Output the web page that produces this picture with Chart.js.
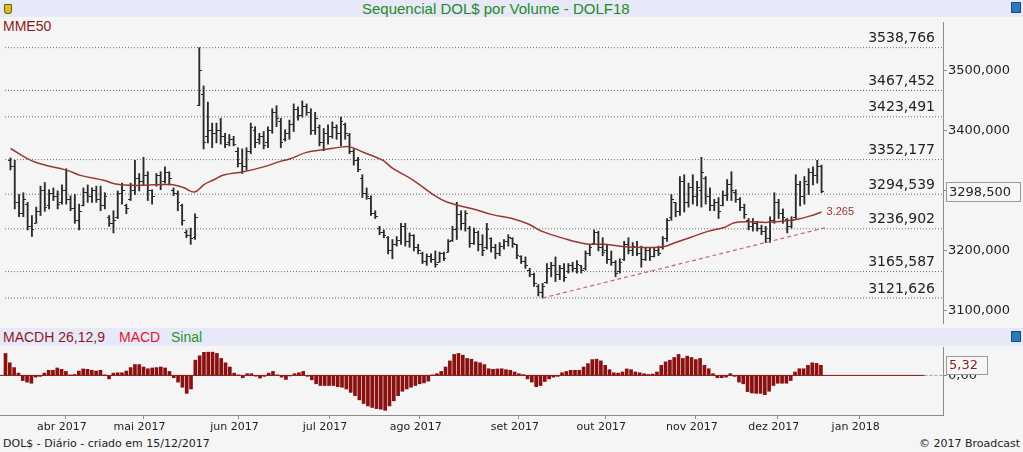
<!DOCTYPE html>
<html lang="pt-BR">
<head>
<meta charset="utf-8">
<title>Sequencial DOL$ por Volume - DOLF18</title>
<script src="https://cdn.jsdelivr.net/npm/chart.js@4.4.0/dist/chart.umd.min.js"></script>
<style>
  html, body { margin: 0; padding: 0; }
  body { position: relative; width: 1023px; height: 452px; overflow: hidden; background: #f5f5f5; font-family: "Liberation Sans", Arial, sans-serif; }
  .strip { position: absolute; left: 0; width: 1023px; background: #e7e8f8; }
  #titleBar { top: 0; height: 17px; }
  #macdBar { top: 328px; height: 18px; }
  .txt { position: absolute; white-space: nowrap; }
  #title { left: 362px; top: 0; font-size: 15px; line-height: 17px; color: #1f8a1f; }
  #mmeLabel { left: 3px; top: 18px; font-size: 14px; line-height: 16px; color: #8b1a1a; }
  .macdTxt { top: 0; font-size: 14px; line-height: 18px; }
  .foot { top: 437px; font-family: "DejaVu Sans", sans-serif; font-size: 11px; line-height: 14px; color: #222; }
  .icoY { position: absolute; left: 4px; top: 4px; width: 6px; height: 8px; background: #d8c020; border: 1px solid #6a5a10; border-radius: 1px 1px 3px 3px; }
  .icoB { position: absolute; left: 1011px; width: 8px; height: 9px; background: #2c78b8; border: 1px solid #1a4a80; }
  canvas { position: absolute; left: 0; }
</style>
</head>
<body>
<div class="strip" id="titleBar">
  <div class="icoY"></div>
  <div class="txt" id="title">Sequencial DOL$ por Volume - DOLF18</div>
  <div class="icoB" style="top:2px"></div>
</div>
<div class="txt" id="mmeLabel">MME50</div>
<canvas id="priceChart" width="1023" height="311" style="top:17px"></canvas>
<div class="strip" id="macdBar">
  <span class="txt macdTxt" style="left:3px;color:#8b1a1a">MACDH 26,12,9</span>
  <span class="txt macdTxt" style="left:119px;color:#e0161e">MACD</span>
  <span class="txt macdTxt" style="left:171px;color:#2a962a">Sinal</span>
  <div class="icoB" style="top:3px"></div>
</div>
<canvas id="macdChart" width="1023" height="90" style="top:346px"></canvas>
<div class="txt foot" style="left:3px">DOL$ - Diário - criado em 15/12/2017</div>
<div class="txt foot" style="right:3px">© 2017 Broadcast</div>

<script>
// Dados (um candle por pregao, 14/03 a 15/12/2017)
const monthLabels = ['abr 2017', 'mai 2017', 'jun 2017', 'jul 2017', 'ago 2017', 'set 2017', 'out 2017', 'nov 2017', 'dez 2017', 'jan 2018'];
const monthIdx = [14, 32, 54, 75, 96, 119, 139, 160, 179, 198];
const priceTicks = [3100, 3200, 3300, 3400, 3500];
const levels = [3538.766, 3467.452, 3423.491, 3352.177, 3294.539, 3236.902, 3165.587, 3121.626];

const highs = [
  3355, 3351, 3294, 3297, 3281, 3259, 3273, 3308, 3314, 3302,
  3305, 3300, 3310, 3337, 3292, 3294, 3278, 3305, 3310, 3305,
  3308, 3308, 3297, 3259, 3267, 3300, 3313, 3278, 3313, 3351,
  3329, 3356, 3332, 3302, 3329, 3332, 3340, 3332, 3305, 3300,
  3278, 3235, 3238, 3262, 3538.8, 3475, 3448, 3413, 3413, 3421,
  3396, 3394, 3391, 3372, 3370, 3372, 3413, 3407, 3396, 3399,
  3407, 3437, 3442, 3421, 3402, 3418, 3445, 3440, 3450, 3445,
  3437, 3431, 3410, 3404, 3410, 3415, 3410, 3423, 3413, 3396,
  3370, 3356, 3327, 3305, 3292, 3267, 3241, 3235, 3224, 3219,
  3224, 3246, 3246, 3230, 3227, 3211, 3198, 3195, 3195, 3200,
  3198, 3198, 3219, 3241, 3281, 3267, 3267, 3241, 3238, 3233,
  3227, 3246, 3222, 3211, 3214, 3219, 3227, 3222, 3211, 3192,
  3190, 3171, 3163, 3144, 3146, 3179, 3181, 3190, 3176, 3179,
  3179, 3181, 3184, 3176, 3200, 3211, 3235, 3233, 3222, 3211,
  3200, 3184, 3187, 3216, 3222, 3214, 3216, 3208, 3206, 3206,
  3206, 3208, 3224, 3254, 3294, 3281, 3324, 3327, 3313, 3327,
  3316, 3356, 3324, 3305, 3286, 3289, 3300, 3319, 3332, 3302,
  3289, 3278, 3254, 3254, 3249, 3243, 3241, 3257, 3297, 3286,
  3270, 3254, 3257, 3327, 3316, 3324, 3337, 3340, 3351, 3343
];
const lows = [
  3335, 3270, 3257, 3257, 3235, 3224, 3246, 3259, 3266, 3270,
  3284, 3270, 3278, 3278, 3267, 3246, 3235, 3275, 3281, 3281,
  3281, 3267, 3270, 3241, 3230, 3254, 3278, 3262, 3284, 3294,
  3300, 3310, 3284, 3278, 3308, 3302, 3313, 3310, 3292, 3267,
  3243, 3222, 3211, 3219, 3442, 3370, 3380, 3372, 3380, 3378,
  3372, 3375, 3375, 3340, 3329, 3335, 3362, 3372, 3378, 3370,
  3372, 3396, 3407, 3372, 3383, 3386, 3399, 3418, 3423, 3426,
  3394, 3394, 3375, 3367, 3378, 3388, 3386, 3375, 3386, 3362,
  3343, 3332, 3289, 3286, 3259, 3254, 3227, 3222, 3195, 3187,
  3208, 3211, 3208, 3206, 3200, 3195, 3179, 3176, 3181, 3173,
  3181, 3184, 3198, 3216, 3219, 3235, 3233, 3206, 3211, 3200,
  3192, 3203, 3198, 3187, 3192, 3203, 3208, 3206, 3187, 3179,
  3171, 3157, 3141, 3125, 3121.6, 3146, 3157, 3149, 3152, 3149,
  3163, 3165, 3163, 3163, 3168, 3192, 3211, 3200, 3192, 3179,
  3176, 3157, 3163, 3184, 3195, 3192, 3192, 3173, 3184, 3184,
  3190, 3192, 3203, 3216, 3251, 3257, 3259, 3265, 3273, 3278,
  3275, 3273, 3278, 3267, 3267, 3254, 3275, 3284, 3284, 3281,
  3267, 3254, 3235, 3233, 3233, 3227, 3214, 3214, 3246, 3254,
  3246, 3230, 3238, 3254, 3275, 3278, 3294, 3310, 3313, 3297
];
const opens = [
  3350, 3340, 3280, 3262, 3278, 3240, 3246, 3265, 3300, 3275,
  3295, 3290, 3280, 3300, 3285, 3270, 3250, 3275, 3298, 3290,
  3300, 3285, 3275, 3255, 3245, 3255, 3295, 3275, 3285, 3300,
  3320, 3315, 3325, 3300, 3310, 3325, 3315, 3330, 3300, 3295,
  3275, 3230, 3225, 3222, 3442, 3460, 3390, 3400, 3395, 3400,
  3390, 3380, 3385, 3365, 3345, 3340, 3365, 3400, 3385, 3390,
  3380, 3400, 3430, 3415, 3385, 3395, 3410, 3435, 3425, 3440,
  3430, 3400, 3405, 3380, 3395, 3390, 3405, 3395, 3410, 3392,
  3365, 3350, 3320, 3295, 3288, 3262, 3238, 3230, 3222, 3200,
  3210, 3218, 3240, 3215, 3225, 3205, 3195, 3182, 3190, 3185,
  3180, 3195, 3198, 3218, 3235, 3260, 3245, 3238, 3212, 3230,
  3210, 3205, 3220, 3205, 3195, 3208, 3215, 3220, 3210, 3190,
  3182, 3168, 3160, 3140, 3130, 3148, 3170, 3175, 3160, 3170,
  3165, 3175, 3170, 3175, 3170, 3195, 3212, 3230, 3205, 3200,
  3185, 3180, 3165, 3185, 3210, 3200, 3205, 3195, 3185, 3200,
  3190, 3200, 3205, 3220, 3255, 3280, 3265, 3315, 3280, 3305,
  3290, 3300, 3320, 3290, 3275, 3280, 3275, 3292, 3310, 3298,
  3285, 3272, 3250, 3240, 3245, 3238, 3232, 3220, 3250, 3280,
  3262, 3252, 3240, 3255, 3310, 3290, 3310, 3330, 3325, 3340
];
const closes = [
  3340, 3280, 3262, 3285, 3240, 3235, 3265, 3300, 3272, 3295,
  3290, 3278, 3300, 3285, 3270, 3250, 3265, 3298, 3290, 3300,
  3285, 3275, 3290, 3245, 3250, 3295, 3300, 3270, 3300, 3320,
  3315, 3325, 3300, 3290, 3325, 3310, 3330, 3320, 3295, 3280,
  3250, 3225, 3220, 3255, 3500, 3380, 3400, 3395, 3400, 3390,
  3378, 3385, 3378, 3345, 3340, 3365, 3405, 3380, 3390, 3375,
  3400, 3430, 3420, 3380, 3395, 3410, 3435, 3425, 3440, 3430,
  3400, 3420, 3380, 3395, 3390, 3405, 3395, 3415, 3395, 3365,
  3350, 3335, 3295, 3290, 3262, 3258, 3230, 3225, 3200, 3210,
  3218, 3240, 3215, 3225, 3205, 3200, 3182, 3190, 3185, 3178,
  3195, 3188, 3215, 3235, 3260, 3245, 3262, 3212, 3230, 3210,
  3200, 3235, 3205, 3195, 3208, 3215, 3222, 3212, 3192, 3182,
  3175, 3160, 3145, 3130, 3140, 3170, 3175, 3160, 3170, 3155,
  3175, 3170, 3178, 3168, 3195, 3205, 3230, 3205, 3198, 3185,
  3180, 3162, 3180, 3210, 3200, 3208, 3195, 3185, 3200, 3190,
  3200, 3195, 3220, 3250, 3285, 3265, 3315, 3280, 3305, 3290,
  3305, 3330, 3290, 3275, 3280, 3265, 3292, 3310, 3300, 3285,
  3272, 3260, 3240, 3245, 3238, 3232, 3220, 3250, 3280, 3262,
  3255, 3240, 3250, 3310, 3290, 3315, 3330, 3325, 3340, 3298.5
];

// MME50 lida em pontos ao longo da curva (posicao do pregao, valor)
const mmeIdx = [0, 5.7, 13, 16.5, 21.9, 24.2, 28.1, 31.2, 37.4, 40.4, 42.9, 45.1, 47.4, 49.7, 54.3, 59, 62.9, 65.2, 69, 72.9, 77.5, 79.1, 82.2, 86.8, 89.1, 93.7, 98.4, 101.9, 107.6, 112.3, 116.9, 120.8, 123.9, 128.5, 133.9, 138.5, 143.2, 147.8, 152.1, 154.8, 158.6, 162.5, 166.3, 168.7, 171.8, 176.4, 180.3, 183.4, 186.4, 189];
const mmeVal = [3370.7, 3348.1, 3334.7, 3325.5, 3317.4, 3312.1, 3309.4, 3309.4, 3310.5, 3305.2, 3298.1, 3310.5, 3318.6, 3326.6, 3332, 3340.1, 3349.2, 3353.6, 3364.2, 3368.6, 3373.4, 3373.4, 3364.5, 3350.8, 3337.4, 3318.6, 3294.4, 3281, 3270.2, 3260.5, 3254.1, 3244.4, 3232.6, 3221.8, 3212.1, 3211, 3206.8, 3205.7, 3206.8, 3213.7, 3222.9, 3232.6, 3239.1, 3247.1, 3248.7, 3247.6, 3249.7, 3252.9, 3258.4, 3265];

const trendIdx = [124, 190];
const trendVal = [3121.6, 3239];

const macdh = [
  11.5, 6.6, 4.1, 1.2, -2.7, -3.5, -4.1, -0.9, -0.5, 1.2,
  2.7, 2.7, 3.9, 3.2, 2.1, 0.2, 0.5, 2.3, 3.4, 3.2,
  2.7, 2.3, 2.7, 0.1, -1.8, 1.2, 1.4, 1.4, 2.3, 4.1,
  5.7, 5.7, 4.4, 3.5, 3.9, 4.1, 4.4, 3.9, 2.1, -1.2,
  -3.5, -6.2, -9.4, -7.1, 8.0, 10.3, 12.1, 12.2, 12.2, 11.5,
  8.9, 6.6, 4.4, 1.2, 0.2, -1.2, 0.9, 0.9, -0.4, -1.4,
  -0.5, 1.2, 2.1, 0.2, -0.9, -2.1, -0.2, 0.9, 1.4, 2.1,
  -0.5, -2.3, -4.4, -5.3, -5.3, -5.3, -5.3, -5.9, -6.2, -7.1,
  -8.9, -10.6, -12.8, -14.7, -16.0, -16.8, -17.4, -17.7, -18.3, -16.0,
  -13.3, -10.6, -8.3, -7.1, -6.2, -5.3, -4.4, -3.9, -3.0, 0.2,
  0.9, 2.1, 4.4, 7.6, 11.0, 11.5, 10.6, 8.9, 8.5, 7.1,
  6.6, 5.7, 3.5, 3.2, 3.4, 3.5, 3.0, 2.7, 1.8, 0.9,
  0.4, -1.8, -3.5, -5.9, -5.3, -3.2, -1.8, -0.9, -0.5, 1.4,
  2.1, 2.7, 2.7, 2.7, 4.4, 6.2, 8.3, 8.5, 7.6, 5.3,
  3.0, 1.4, 1.2, 1.8, 3.4, 3.0, 1.8, 1.4, 0.9, 0.5,
  0.7, 1.8, 5.3, 7.1, 8.0, 9.4, 11.0, 8.9, 10.1, 9.4,
  8.3, 8.9, 5.3, 3.5, 0.9, -1.2, -1.2, -0.9, 0.9, -0.5,
  -3.5, -4.4, -8.5, -9.2, -9.4, -9.4, -10.1, -8.3, -5.3, -4.1,
  -4.1, -4.1, -2.7, 1.8, 3.5, 3.5, 5.3, 6.6, 6.3, 5.32
];

const X_MIN = -1.275;
const X_MAX = 217.3;
const MACD_END = 213;

Chart.defaults.font.family = '"DejaVu Sans", sans-serif';

function fmt(v, d) {
    return v.toFixed(d).replace('.', ',');
}

function makeTick(left) {
    const c = document.createElement('canvas');
    c.width = 5;
    c.height = 1;
    const g = c.getContext('2d');
    g.fillStyle = '#2a2a2a';
    g.fillRect(left ? 0 : 3, 0, 2, 1);
    return c;
}

function hline(v, x0, x1) {
    return [{ x: x0, y: v }, { x: x1, y: v }];
}

const priceText = {
    id: 'priceText',
    afterDraw(chart) {
        const { ctx, chartArea, scales: { x, y } } = chart;
        ctx.save();
        ctx.font = '14px "DejaVu Sans"';
        ctx.fillStyle = '#222';
        ctx.textAlign = 'right';
        ctx.textBaseline = 'bottom';
        levels.forEach(v => ctx.fillText(fmt(v, 3), chartArea.right - 8, y.getPixelForValue(v) - 2));

        // rotulo da MME
        const last = mmeVal[mmeVal.length - 1];
        const s = String(Math.round(last));
        ctx.font = '11px "Liberation Sans"';
        ctx.fillStyle = '#a03030';
        ctx.textAlign = 'left';
        ctx.textBaseline = 'middle';
        ctx.fillText(s[0] + '.' + s.slice(1), x.getPixelForValue(mmeIdx[mmeIdx.length - 1]) + 5, y.getPixelForValue(last));

        // ultimo fechamento na escala
        const lc = closes[closes.length - 1];
        const py = Math.round(y.getPixelForValue(lc));
        ctx.fillStyle = '#f7f7f7';
        ctx.strokeStyle = '#9a9a9a';
        ctx.fillRect(946.5, py - 9.5, 74, 19);
        ctx.strokeRect(946.5, py - 9.5, 74, 19);
        ctx.font = '13px "DejaVu Sans"';
        ctx.fillStyle = '#222';
        ctx.fillText(fmt(lc, 3), 949, py + 0.5);
        ctx.restore();
    }
};

const macdText = {
    id: 'macdText',
    afterDraw(chart) {
        const { ctx, scales: { y } } = chart;
        const v = macdh[macdh.length - 1];
        const py = Math.round(y.getPixelForValue(v)) + 1;
        ctx.save();
        ctx.fillStyle = '#f7f7f7';
        ctx.strokeStyle = '#9a9a9a';
        ctx.fillRect(946.5, py - 9.5, 41, 18);
        ctx.strokeRect(946.5, py - 9.5, 41, 18);
        ctx.font = '13px "DejaVu Sans"';
        ctx.fillStyle = '#8b1a1a';
        ctx.textBaseline = 'middle';
        ctx.fillText(fmt(v, 2), 949, py);
        ctx.restore();
    }
};

let priceChart;

function initPriceChart() {
    const ctx = document.getElementById('priceChart').getContext('2d');
    const idx = highs.map((_, i) => i);
    const levelSets = levels.map(v => ({
        type: 'line',
        data: hline(v, X_MIN, X_MAX),
        borderColor: '#6a6a6a',
        borderWidth: 1,
        borderDash: [1, 2],
        pointRadius: 0,
        order: 5
    }));
    priceChart = new Chart(ctx, {
        type: 'bar',
        data: {
            datasets: levelSets.concat([
                {
                    type: 'bar',
                    data: idx.map(i => ({ x: i, y: [lows[i], highs[i]] })),
                    backgroundColor: '#2a2a2a',
                    barThickness: 1.2,
                    order: 3
                },
                {
                    type: 'line',
                    data: idx.map(i => ({ x: i, y: opens[i] })),
                    showLine: false,
                    pointStyle: makeTick(true),
                    pointRadius: 2,
                    order: 2
                },
                {
                    type: 'line',
                    data: idx.map(i => ({ x: i, y: closes[i] })),
                    showLine: false,
                    pointStyle: makeTick(false),
                    pointRadius: 2,
                    order: 2
                },
                {
                    type: 'line',
                    data: mmeIdx.map((v, k) => ({ x: v, y: mmeVal[k] })),
                    borderColor: '#9a3535',
                    borderWidth: 1.5,
                    tension: 0.4,
                    pointRadius: 0,
                    order: 1
                },
                {
                    type: 'line',
                    data: trendIdx.map((v, k) => ({ x: v, y: trendVal[k] })),
                    borderColor: '#c46868',
                    borderWidth: 1.2,
                    borderDash: [4, 3],
                    pointRadius: 0,
                    order: 1
                }
            ])
        },
        options: {
            responsive: false,
            animation: false,
            events: [],
            layout: { padding: 0 },
            plugins: { legend: { display: false }, tooltip: { enabled: false } },
            scales: {
                x: { type: 'linear', min: X_MIN, max: X_MAX, display: false, offset: false, grid: { offset: false } },
                y: {
                    position: 'right',
                    min: 3079.9,
                    max: 3581.5,
                    afterBuildTicks: s => { s.ticks = priceTicks.map(v => ({ value: v })); },
                    afterFit: s => { s.width = 80; s.paddingTop = 0; s.paddingBottom = 0; },
                    grid: { drawOnChartArea: false, drawTicks: true, tickLength: 4, color: '#8c8c8c' },
                    border: { color: '#8c8c8c' },
                    ticks: { padding: 1, color: '#222', font: { size: 13 }, callback: v => fmt(v, 3) }
                }
            }
        },
        plugins: [priceText]
    });
}

let macdChart;

function initMacdChart() {
    const ctx = document.getElementById('macdChart').getContext('2d');
    macdChart = new Chart(ctx, {
        type: 'bar',
        data: {
            datasets: [
                {
                    type: 'bar',
                    data: macdh.map((v, i) => ({ x: i, y: v })),
                    backgroundColor: '#8b1010',
                    barThickness: 3,
                    order: 2
                },
                {
                    type: 'line',
                    data: hline(0, X_MIN, MACD_END),
                    borderColor: '#8b1010',
                    borderWidth: 1,
                    pointRadius: 0,
                    order: 1
                },
                {
                    type: 'line',
                    data: hline(0, MACD_END, X_MAX),
                    borderColor: '#a0a0a0',
                    borderWidth: 1,
                    borderDash: [3, 2],
                    pointRadius: 0,
                    order: 1
                }
            ]
        },
        options: {
            responsive: false,
            animation: false,
            events: [],
            layout: { padding: { top: 1 } },
            plugins: { legend: { display: false }, tooltip: { enabled: false } },
            scales: {
                x: {
                    type: 'linear',
                    min: X_MIN,
                    max: X_MAX,
                    offset: false,
                    afterBuildTicks: s => { s.ticks = monthIdx.map(v => ({ value: v })); },
                    afterFit: s => { s.height = 21; s.paddingLeft = 0; s.paddingRight = 0; },
                    grid: { offset: false, drawOnChartArea: false, drawTicks: true, tickLength: 4, color: '#8c8c8c' },
                    border: { color: '#8c8c8c' },
                    ticks: {
                        autoSkip: false,
                        maxRotation: 0,
                        padding: 2,
                        labelOffset: -4,
                        color: '#222',
                        font: { size: 11 },
                        callback: (v, k) => monthLabels[k]
                    }
                },
                y: {
                    position: 'right',
                    min: -20.75,
                    max: 14.9,
                    afterBuildTicks: s => { s.ticks = [{ value: 0 }]; },
                    afterFit: s => { s.width = 80; s.paddingTop = 0; s.paddingBottom = 0; },
                    grid: { drawOnChartArea: false, drawTicks: true, tickLength: 4, color: '#8c8c8c' },
                    border: { color: '#8c8c8c' },
                    ticks: { padding: 1, color: '#222', font: { size: 13 }, callback: v => fmt(v, 2) }
                }
            }
        },
        plugins: [macdText]
    });
}

document.addEventListener('DOMContentLoaded', () => {
    initPriceChart();
    initMacdChart();
});
</script>
</body>
</html>
